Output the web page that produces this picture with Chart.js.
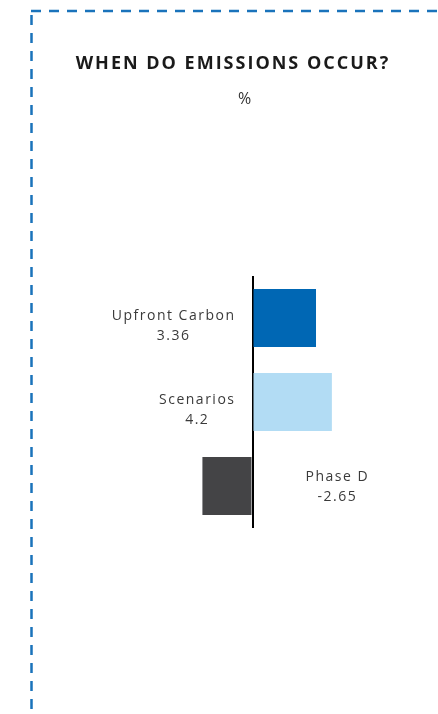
<!DOCTYPE html>
<html>
<head>
<meta charset="utf-8">
<script src="https://cdn.jsdelivr.net/npm/chart.js@4"></script>
<style>
  html, body { margin: 0; padding: 0; background: #fff; }
  #wrap { position: relative; width: 438px; height: 714px; overflow: hidden; }
  #title { position: absolute; left: 0; width: 466px; top: 50px; text-align: center;
           font: bold 18px "Open Sans", sans-serif; color: #1a1a1a; letter-spacing: 2px; }
  #unit { position: absolute; left: 0; width: 489px; top: 87px; text-align: center;
          font: 16px "Open Sans", sans-serif; color: #333; }
  canvas { position: absolute; left: 0; top: 0; }
</style>
</head>
<body>
<div id="wrap">
  <canvas id="bar-chart" width="438" height="714"></canvas>
  <div id="title">WHEN DO EMISSIONS OCCUR?</div>
  <div id="unit">%</div>
</div>
<script>
var categories = ["Upfront Carbon", "Scenarios", "Phase D"];
var values = [3.36, 4.2, -2.65];
var valueLabels = ["3.36", "4.2", "-2.65"];
var barColors = ["#0067b4", "#b2dcf4", "#444446"];

// dashed frame around the panel
var framePlugin = {
    id: 'frame',
    beforeDraw: function (chart) {
        var ctx = chart.ctx;
        ctx.save();
        ctx.strokeStyle = "#1a73bb";
        ctx.lineWidth = 2.5;
        ctx.setLineDash([10, 8]);
        ctx.beginPath();
        ctx.moveTo(31, 11);
        ctx.lineTo(438, 11);
        ctx.moveTo(31.5, 15);
        ctx.lineTo(31.5, 714);
        ctx.stroke();
        ctx.restore();
    }
};

// labels on the other side of the axis
var labelPlugin = {
    id: 'sideLabels',
    afterDatasetsDraw: function (chart) {
        var ctx = chart.ctx;
        var meta = chart.getDatasetMeta(0);
        var zero = chart.scales.x.getPixelForValue(0);
        ctx.save();
        ctx.font = '14px "Open Sans", sans-serif';
        ctx.letterSpacing = "1.5px";
        ctx.fillStyle = "#3a3a3a";
        ctx.textAlign = "center";
        ctx.textBaseline = "middle";
        meta.data.forEach(function (bar, i) {
            var w = Math.max(ctx.measureText(categories[i]).width, ctx.measureText(valueLabels[i]).width);
            var cx, dy;
            if (values[i] >= 0) {
                cx = zero - 17 - w / 2;
                dy = 8;
            } else {
                cx = zero + 53 + w / 2;
                dy = 1;
            }
            ctx.fillText(categories[i], cx, bar.y - 10 + dy);
            ctx.fillText(valueLabels[i], cx, bar.y + 10 + dy);
        });
        ctx.restore();
    }
};

new Chart(document.getElementById("bar-chart"), {
    type: 'bar',
    data: {
        labels: categories,
        datasets: [{
            data: values,
            backgroundColor: barColors,
            borderWidth: 0,
            categoryPercentage: 1,
            barPercentage: 0.69
        }]
    },
    options: {
        indexAxis: 'y',
        responsive: false,
        animation: false,
        layout: { padding: { left: 158, right: 91, top: 276, bottom: 186 } },
        plugins: {
            legend: { display: false },
            tooltip: { enabled: false }
        },
        scales: {
            x: {
                min: -5,
                max: 5,
                ticks: { display: false, stepSize: 5 },
                border: { display: false },
                grid: {
                    drawTicks: false,
                    lineWidth: 2,
                    color: function (c) { return c.tick && c.tick.value === 0 ? "#000" : "rgba(0,0,0,0)"; }
                }
            },
            y: { display: false }
        }
    },
    plugins: [framePlugin, labelPlugin]
});
</script>
</body>
</html>
